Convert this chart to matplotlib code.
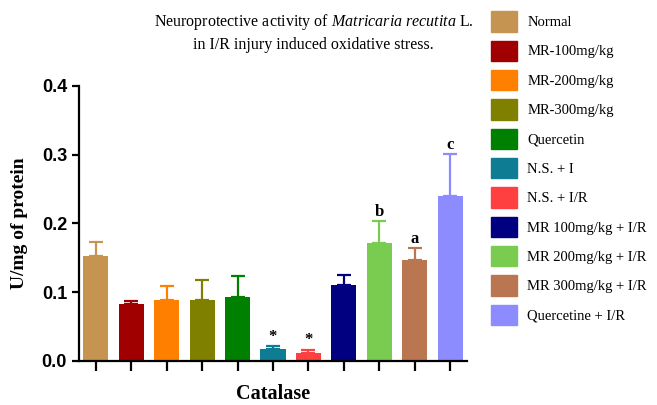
import matplotlib.pyplot as plt
import numpy as np
from matplotlib.patches import Patch

# Catalase activity per group (U/mg of protein)
groups = ['Normal', 'MR-100mg/kg', 'MR-200mg/kg', 'MR-300mg/kg', 'Quercetin',
          'N.S. + I', 'N.S. + I/R', 'MR 100mg/kg + I/R', 'MR 200mg/kg + I/R',
          'MR 300mg/kg + I/R', 'Quercetine + I/R']
means = [0.152, 0.083, 0.089, 0.088, 0.093, 0.017, 0.011, 0.111, 0.171, 0.146, 0.240]
errors = [0.021, 0.004, 0.020, 0.029, 0.031, 0.004, 0.005, 0.014, 0.032, 0.018, 0.061]
marks = ['', '', '', '', '', '*', '*', '', 'b', 'a', 'c']
colors = ['#C49450', '#A00000', '#FF8000', '#808000', '#008000', '#0E7D93',
          '#FF4040', '#000080', '#7ACC50', '#BA7650', '#8C8CFF']

plt.rcParams['mathtext.fontset'] = 'custom'
plt.rcParams['mathtext.it'] = 'Liberation Serif:italic'
plt.rcParams['mathtext.rm'] = 'Liberation Serif'

serif = ['Liberation Serif', 'DejaVu Serif']
sans = ['Liberation Sans', 'DejaVu Sans']

fig = plt.figure(figsize=(6.57, 4.05), dpi=100)
ax = fig.add_axes([0.120, 0.109, 0.591, 0.679])

x = np.arange(len(groups))
ax.bar(x, means, width=0.71, color=colors, zorder=2)
for i in x:
    ax.errorbar(x[i], means[i], yerr=[[0], [errors[i]]], color=colors[i],
                capsize=4.7, elinewidth=1.6, capthick=1.6, zorder=1)
    if marks[i]:
        ax.text(x[i], means[i] + errors[i] + 0.002, marks[i], ha='center', va='bottom',
                fontsize=12, fontweight='bold', family=serif)

ax.set_xlim(-0.48, 10.48)
ax.set_ylim(0, 0.4)
ax.set_yticks([0.0, 0.1, 0.2, 0.3, 0.4])
ax.set_yticklabels(['0.0', '0.1', '0.2', '0.3', '0.4'], fontsize=13,
                   fontweight='bold', family=sans)
ax.set_xticks(x)
ax.set_xticklabels([])
ax.tick_params(axis='x', direction='out', length=7, width=1.6)
ax.tick_params(axis='y', direction='out', length=5, width=1.6)
ax.spines['top'].set_visible(False)
ax.spines['right'].set_visible(False)
ax.spines['left'].set_linewidth(1.6)
ax.spines['bottom'].set_linewidth(1.6)

ax.set_ylabel('U/mg of protein', fontsize=14, fontweight='bold', family=serif, labelpad=10)
ax.set_xlabel('Catalase', fontsize=14.5, fontweight='bold', family=serif, labelpad=6)

fig.text(0.477, 0.945, 'Neuroprotective activity of $\\it{Matricaria\\ recutita}$ L.',
         ha='center', va='center', fontsize=11.5, family=serif)
fig.text(0.477, 0.890, 'in I/R injury induced oxidative stress.',
         ha='center', va='center', fontsize=11.5, family=serif)

handles = [Patch(facecolor=c, edgecolor=c) for c in colors]
fig.legend(handles, groups, loc='upper left', bbox_to_anchor=(0.748, 0.972),
           frameon=False, prop={'family': serif, 'size': 10.5},
           borderpad=0, borderaxespad=0,
           handlelength=1.75, handleheight=1.75, labelspacing=0.63, handletextpad=0.7)

fig.savefig('out.png', dpi=100)
